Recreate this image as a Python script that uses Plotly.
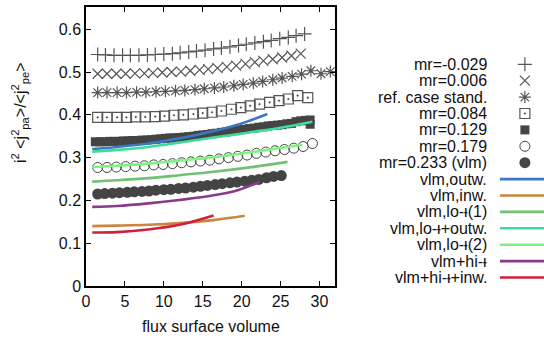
import plotly.graph_objects as go

# ---------------- data ----------------
plus_x = [1.5, 2.5, 3.6, 4.7, 5.7, 6.8, 7.9, 8.9, 10.0, 11.1, 12.1, 13.2, 14.2, 15.3, 16.4, 17.4, 18.5, 19.6, 20.6, 21.7, 22.8, 23.8, 24.9, 26.0, 27.0, 28.1]
plus_y = [0.541, 0.540, 0.539, 0.539, 0.539, 0.539, 0.540, 0.541, 0.542, 0.543, 0.545, 0.547, 0.549, 0.551, 0.554, 0.556, 0.559, 0.562, 0.565, 0.568, 0.571, 0.574, 0.578, 0.581, 0.585, 0.589]

xm_x = [1.5, 2.7, 3.9, 5.1, 6.3, 7.5, 8.6, 9.8, 11.0, 12.2, 13.4, 14.6, 15.7, 16.9, 18.1, 19.3, 20.5, 21.7, 22.8, 24.0, 25.2, 26.4, 27.6]
xm_y = [0.496, 0.496, 0.496, 0.496, 0.497, 0.497, 0.498, 0.499, 0.500, 0.501, 0.503, 0.505, 0.507, 0.509, 0.512, 0.515, 0.519, 0.523, 0.526, 0.530, 0.534, 0.538, 0.543]

ref_x = [1.5, 2.7, 4.0, 5.2, 6.5, 7.7, 9.0, 10.2, 11.5, 12.7, 14.0, 15.2, 16.5, 17.7, 19.0, 20.2, 21.5, 22.7, 24.0, 25.2, 26.5, 27.7, 28.9, 30.2, 31.4]
ref_y = [0.452, 0.452, 0.452, 0.452, 0.453, 0.453, 0.454, 0.455, 0.456, 0.457, 0.459, 0.461, 0.463, 0.465, 0.468, 0.471, 0.474, 0.478, 0.482, 0.486, 0.490, 0.495, 0.503, 0.496, 0.501]

sq_x = [1.5, 2.7, 4.0, 5.2, 6.4, 7.6, 8.9, 10.1, 11.3, 12.5, 13.8, 15.0, 16.2, 17.4, 18.7, 19.9, 21.1, 22.3, 23.6, 24.8, 26.0, 27.2, 28.5]
sq_y = [0.394, 0.394, 0.394, 0.394, 0.395, 0.395, 0.396, 0.397, 0.399, 0.400, 0.402, 0.404, 0.406, 0.409, 0.413, 0.417, 0.421, 0.425, 0.429, 0.433, 0.437, 0.445, 0.440]

fsq_x = [1.2, 1.8, 2.4, 3.0, 3.6, 4.2, 4.8, 5.4, 6.0, 6.6, 7.2, 7.8, 8.4, 9.0, 9.6, 10.2, 10.8, 11.4, 12.0, 12.6, 13.2, 13.8, 14.4, 15.0, 15.6, 16.2, 16.8, 17.4, 18.0, 18.6, 19.2, 19.8, 20.4, 21.0, 21.6, 22.2, 22.8, 23.4, 24.0, 24.6, 25.2, 25.8, 26.4, 27.0, 27.6, 28.2, 28.8, 28.8]
fsq_y = [0.337, 0.337, 0.337, 0.338, 0.338, 0.338, 0.339, 0.339, 0.340, 0.340, 0.341, 0.341, 0.342, 0.343, 0.344, 0.345, 0.346, 0.346, 0.347, 0.348, 0.349, 0.350, 0.352, 0.353, 0.354, 0.356, 0.357, 0.359, 0.360, 0.362, 0.363, 0.365, 0.366, 0.368, 0.369, 0.371, 0.372, 0.374, 0.375, 0.376, 0.377, 0.379, 0.380, 0.384, 0.386, 0.387, 0.388, 0.378]

oc_x = [1.5, 2.7, 3.9, 5.1, 6.3, 7.5, 8.7, 9.9, 11.1, 12.3, 13.5, 14.7, 15.9, 17.1, 18.3, 19.5, 20.7, 21.9, 23.1, 24.3, 25.5, 26.7, 27.9, 29.1]
oc_y = [0.277, 0.277, 0.278, 0.279, 0.280, 0.281, 0.283, 0.284, 0.286, 0.288, 0.290, 0.292, 0.294, 0.297, 0.300, 0.303, 0.306, 0.310, 0.313, 0.316, 0.319, 0.322, 0.326, 0.333]

fc_x = [1.5, 2.4, 3.4, 4.3, 5.3, 6.2, 7.2, 8.1, 9.0, 10.0, 10.9, 11.9, 12.8, 13.8, 14.7, 15.6, 16.6, 17.5, 18.5, 19.4, 20.4, 21.3, 22.2, 23.2, 24.1, 25.1]
fc_y = [0.215, 0.216, 0.217, 0.218, 0.219, 0.220, 0.221, 0.222, 0.224, 0.225, 0.226, 0.228, 0.229, 0.231, 0.233, 0.235, 0.237, 0.239, 0.241, 0.243, 0.245, 0.247, 0.249, 0.253, 0.256, 0.258]

outw_x = [0.8, 4, 8, 12, 16.4, 20, 23.3]
outw_y = [0.320, 0.325, 0.333, 0.345, 0.362, 0.380, 0.402]

inw_x = [0.8, 4, 8, 12, 16.4, 20.4]
inw_y = [0.140, 0.141, 0.143, 0.147, 0.154, 0.164]

lo1_x = [0.8, 4, 8, 12, 16.4, 21.8, 25.9]
lo1_y = [0.244, 0.247, 0.252, 0.259, 0.267, 0.279, 0.290]

looutw_x = [0.8, 4, 8, 12, 16.4, 21.8, 25, 29.1]
looutw_y = [0.314, 0.318, 0.325, 0.335, 0.347, 0.361, 0.370, 0.384]

lo2_x = [0.8, 4, 8, 12, 16.4, 21.8, 27.8]
lo2_y = [0.278, 0.281, 0.286, 0.293, 0.301, 0.314, 0.330]

hi_x = [0.8, 4, 8, 12, 16.4, 19.5, 22.3]
hi_y = [0.185, 0.187, 0.193, 0.201, 0.212, 0.224, 0.243]

hiinw_x = [0.8, 4, 8, 12, 16.4]
hiinw_y = [0.125, 0.126, 0.132, 0.143, 0.165]

x_ticks = [0, 5, 10, 15, 20, 25, 30]
y_ticks = [0, 0.1, 0.2, 0.3, 0.4, 0.5, 0.6]

IOTA = "\u1d7c"
marker_names = ["mr=-0.029", "mr=0.006", "ref. case stand.", "mr=0.084", "mr=0.129", "mr=0.179", "mr=0.233 (vlm)"]
line_names = ["vlm,outw.", "vlm,inw.", f"vlm,lo-{IOTA}(1)", f"vlm,lo-{IOTA}+outw.",
              f"vlm,lo-{IOTA}(2)", f"vlm+hi-{IOTA}", f"vlm+hi-{IOTA}+inw."]

# ---------------- styles ----------------
GRAY = "#555555"
marker_series = [
    (plus_x, plus_y, dict(symbol="cross-thin-open", size=10, line=dict(color=GRAY, width=1.2), color=GRAY)),
    (xm_x, xm_y, dict(symbol="x-thin-open", size=10, line=dict(color=GRAY, width=1.2), color=GRAY)),
    (ref_x, ref_y, dict(symbol="asterisk-open", size=10, line=dict(color=GRAY, width=1.2), color=GRAY)),
    (sq_x, sq_y, dict(symbol="square-open-dot", size=10, line=dict(color=GRAY, width=1.2), color=GRAY)),
    (fsq_x, fsq_y, dict(symbol="square", size=9, color="#444444", line=dict(width=0))),
    (oc_x, oc_y, dict(symbol="circle-open", size=10, line=dict(color="#444444", width=1.0), color="#444444")),
    (fc_x, fc_y, dict(symbol="circle", size=11, color="#444444", line=dict(width=0))),
]
line_series = [
    (outw_x, outw_y, "#3a78c4"),
    (inw_x, inw_y, "#cc843e"),
    (lo1_x, lo1_y, "#72c072"),
    (looutw_x, looutw_y, "#3edc9c"),
    (lo2_x, lo2_y, "#7ff27f"),
    (hi_x, hi_y, "#8a3a8c"),
    (hiinw_x, hiinw_y, "#d0203e"),
]

fig = go.Figure()
for (xs, ys, mk), nm in zip(marker_series, marker_names):
    fig.add_trace(go.Scatter(x=xs, y=ys, mode="markers", marker=mk, name=nm,
                             showlegend=False, cliponaxis=True))
for (xs, ys, col), nm in zip(line_series, line_names):
    fig.add_trace(go.Scatter(x=xs, y=ys, mode="lines", line=dict(color=col, width=2.6, shape="spline"),
                             name=nm, showlegend=False))

# ---------------- custom legend (keys drawn on a hidden axis) ----------------
W, H = 544, 338
ML, MR, MT, MB = 86, 0, 7, 52
plot_w = W - ML - MR
plot_h = H - MT - MB
main_right = 335
row0, row_step = 64.3, 16.4
key_left = 495
text_right = 489

for i, ((_, _, mk), nm) in enumerate(zip(marker_series, marker_names)):
    fig.add_trace(go.Scatter(x=[0.61], y=[row0 + row_step * i], mode="markers", marker=mk,
                             xaxis="x2", yaxis="y2", showlegend=False, hoverinfo="skip"))
for j, ((_, _, col), nm) in enumerate(zip(line_series, line_names)):
    i = j + len(marker_series)
    fig.add_trace(go.Scatter(x=[0.1, 1.0], y=[row0 + row_step * i] * 2, mode="lines",
                             line=dict(color=col, width=2.6),
                             xaxis="x2", yaxis="y2", showlegend=False, hoverinfo="skip"))

annotations = []
for i, nm in enumerate(marker_names + line_names):
    annotations.append(dict(x=(text_right - ML) / plot_w, xref="paper", xanchor="right",
                            y=row0 + row_step * i, yref="y2", yanchor="middle",
                            text=nm, showarrow=False, font=dict(size=16, color="#111111")))

annotations.append(dict(x=(20 - ML) / plot_w, xref="paper", y=(H - MB - 113) / plot_h, yref="paper",
                        xanchor="center", yanchor="middle", textangle=-90, showarrow=False,
                        text="i<sup>2</sup> &lt;j<sup>2</sup><sub>pa</sub>&gt;/&lt;j<sup>2</sup><sub>pe</sub>&gt;",
                        font=dict(size=16, color="#111111")))
annotations.append(dict(x=((ML + main_right) / 2 - ML) / plot_w, xref="paper",
                        y=(H - MB - 326.5) / plot_h, yref="paper",
                        xanchor="center", yanchor="middle", showarrow=False,
                        text="flux surface volume", font=dict(size=16, color="#111111")))

axis_common = dict(showline=True, linecolor="black", linewidth=1.5, mirror="ticks",
                   ticks="inside", ticklen=5, tickwidth=1.3, tickcolor="black",
                   showgrid=False, zeroline=False, tickfont=dict(size=16, color="#111111"))

fig.update_layout(
    width=W, height=H,
    margin=dict(l=ML, r=MR, t=MT, b=MB),
    paper_bgcolor="white", plot_bgcolor="white",
    font=dict(family="Liberation Sans, Arial, sans-serif", size=16, color="#111111"),
    showlegend=False,
    xaxis=dict(domain=[0, (main_right - ML) / plot_w], range=[0, 32], tickvals=x_ticks,
               ticktext=[str(v) for v in x_ticks], **axis_common),
    yaxis=dict(range=[0, 0.652], tickvals=y_ticks, ticktext=["0"] + [f"{v:.1f}" for v in y_ticks[1:]],
               **axis_common),
    xaxis2=dict(domain=[(key_left - ML) / plot_w, 1], range=[0, 1], visible=False, anchor="y2"),
    yaxis2=dict(domain=[0, 1], range=[MT + plot_h, MT], visible=False, anchor="x2"),
    annotations=annotations,
)

fig.write_html("out.html")
